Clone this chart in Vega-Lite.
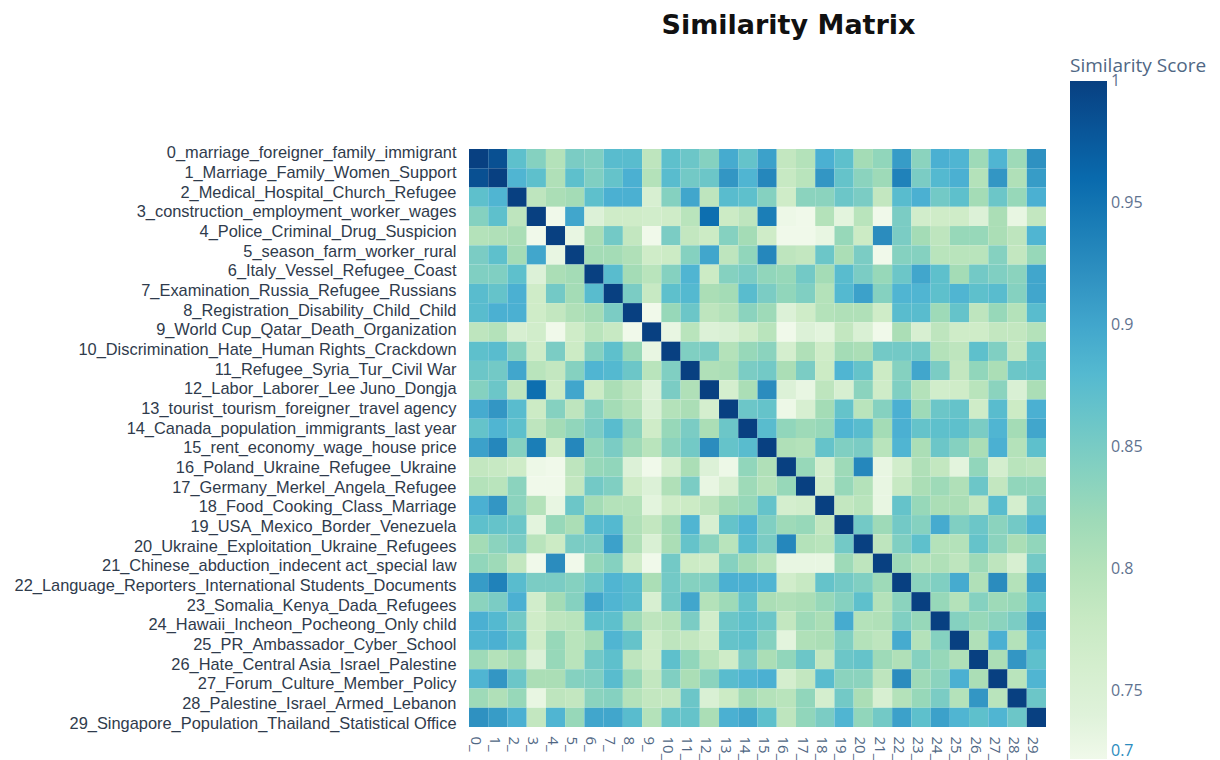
{"$schema":"https://vega.github.io/schema/vega-lite/v6.json","autosize":"none","padding":{"left":469,"top":149,"right":174,"bottom":33},"width":577,"height":578,"background":"white","title":{"text":"Similarity Matrix","font":"DejaVu Sans","fontSize":27,"fontWeight":"bold","color":"#111111","anchor":"middle","dx":31,"offset":17},"data":{"values":[
{"r":0,"c":0,"v":1},{"r":0,"c":1,"v":0.985},{"r":0,"c":2,"v":0.87},{"r":0,"c":3,"v":0.84},{"r":0,"c":4,"v":0.8},{"r":0,"c":5,"v":0.85},{"r":0,"c":6,"v":0.845},{"r":0,"c":7,"v":0.875},{"r":0,"c":8,"v":0.875},{"r":0,"c":9,"v":0.79},{"r":0,"c":10,"v":0.87},{"r":0,"c":11,"v":0.86},{"r":0,"c":12,"v":0.84},{"r":0,"c":13,"v":0.895},{"r":0,"c":14,"v":0.865},{"r":0,"c":15,"v":0.905},{"r":0,"c":16,"v":0.785},{"r":0,"c":17,"v":0.8},{"r":0,"c":18,"v":0.89},{"r":0,"c":19,"v":0.87},{"r":0,"c":20,"v":0.815},{"r":0,"c":21,"v":0.83},{"r":0,"c":22,"v":0.91},{"r":0,"c":23,"v":0.835},{"r":0,"c":24,"v":0.89},{"r":0,"c":25,"v":0.885},{"r":0,"c":26,"v":0.82},{"r":0,"c":27,"v":0.885},{"r":0,"c":28,"v":0.82},{"r":0,"c":29,"v":0.92},
{"r":1,"c":0,"v":0.985},{"r":1,"c":1,"v":1},{"r":1,"c":2,"v":0.885},{"r":1,"c":3,"v":0.87},{"r":1,"c":4,"v":0.805},{"r":1,"c":5,"v":0.87},{"r":1,"c":6,"v":0.845},{"r":1,"c":7,"v":0.865},{"r":1,"c":8,"v":0.89},{"r":1,"c":9,"v":0.8},{"r":1,"c":10,"v":0.875},{"r":1,"c":11,"v":0.855},{"r":1,"c":12,"v":0.86},{"r":1,"c":13,"v":0.915},{"r":1,"c":14,"v":0.885},{"r":1,"c":15,"v":0.93},{"r":1,"c":16,"v":0.78},{"r":1,"c":17,"v":0.795},{"r":1,"c":18,"v":0.915},{"r":1,"c":19,"v":0.865},{"r":1,"c":20,"v":0.835},{"r":1,"c":21,"v":0.82},{"r":1,"c":22,"v":0.935},{"r":1,"c":23,"v":0.85},{"r":1,"c":24,"v":0.88},{"r":1,"c":25,"v":0.89},{"r":1,"c":26,"v":0.8},{"r":1,"c":27,"v":0.915},{"r":1,"c":28,"v":0.805},{"r":1,"c":29,"v":0.91},
{"r":2,"c":0,"v":0.87},{"r":2,"c":1,"v":0.885},{"r":2,"c":2,"v":1},{"r":2,"c":3,"v":0.79},{"r":2,"c":4,"v":0.81},{"r":2,"c":5,"v":0.815},{"r":2,"c":6,"v":0.87},{"r":2,"c":7,"v":0.89},{"r":2,"c":8,"v":0.89},{"r":2,"c":9,"v":0.755},{"r":2,"c":10,"v":0.84},{"r":2,"c":11,"v":0.9},{"r":2,"c":12,"v":0.79},{"r":2,"c":13,"v":0.875},{"r":2,"c":14,"v":0.87},{"r":2,"c":15,"v":0.84},{"r":2,"c":16,"v":0.77},{"r":2,"c":17,"v":0.835},{"r":2,"c":18,"v":0.835},{"r":2,"c":19,"v":0.86},{"r":2,"c":20,"v":0.85},{"r":2,"c":21,"v":0.785},{"r":2,"c":22,"v":0.875},{"r":2,"c":23,"v":0.89},{"r":2,"c":24,"v":0.855},{"r":2,"c":25,"v":0.87},{"r":2,"c":26,"v":0.815},{"r":2,"c":27,"v":0.86},{"r":2,"c":28,"v":0.825},{"r":2,"c":29,"v":0.89},
{"r":3,"c":0,"v":0.84},{"r":3,"c":1,"v":0.87},{"r":3,"c":2,"v":0.79},{"r":3,"c":3,"v":1},{"r":3,"c":4,"v":0.71},{"r":3,"c":5,"v":0.9},{"r":3,"c":6,"v":0.745},{"r":3,"c":7,"v":0.77},{"r":3,"c":8,"v":0.77},{"r":3,"c":9,"v":0.765},{"r":3,"c":10,"v":0.77},{"r":3,"c":11,"v":0.795},{"r":3,"c":12,"v":0.955},{"r":3,"c":13,"v":0.775},{"r":3,"c":14,"v":0.79},{"r":3,"c":15,"v":0.94},{"r":3,"c":16,"v":0.725},{"r":3,"c":17,"v":0.715},{"r":3,"c":18,"v":0.8},{"r":3,"c":19,"v":0.735},{"r":3,"c":20,"v":0.795},{"r":3,"c":21,"v":0.705},{"r":3,"c":22,"v":0.85},{"r":3,"c":23,"v":0.765},{"r":3,"c":24,"v":0.77},{"r":3,"c":25,"v":0.77},{"r":3,"c":26,"v":0.745},{"r":3,"c":27,"v":0.81},{"r":3,"c":28,"v":0.73},{"r":3,"c":29,"v":0.785},
{"r":4,"c":0,"v":0.8},{"r":4,"c":1,"v":0.805},{"r":4,"c":2,"v":0.81},{"r":4,"c":3,"v":0.71},{"r":4,"c":4,"v":1},{"r":4,"c":5,"v":0.73},{"r":4,"c":6,"v":0.81},{"r":4,"c":7,"v":0.855},{"r":4,"c":8,"v":0.785},{"r":4,"c":9,"v":0.705},{"r":4,"c":10,"v":0.85},{"r":4,"c":11,"v":0.785},{"r":4,"c":12,"v":0.775},{"r":4,"c":13,"v":0.84},{"r":4,"c":14,"v":0.815},{"r":4,"c":15,"v":0.77},{"r":4,"c":16,"v":0.705},{"r":4,"c":17,"v":0.72},{"r":4,"c":18,"v":0.73},{"r":4,"c":19,"v":0.825},{"r":4,"c":20,"v":0.775},{"r":4,"c":21,"v":0.925},{"r":4,"c":22,"v":0.85},{"r":4,"c":23,"v":0.815},{"r":4,"c":24,"v":0.79},{"r":4,"c":25,"v":0.825},{"r":4,"c":26,"v":0.825},{"r":4,"c":27,"v":0.81},{"r":4,"c":28,"v":0.79},{"r":4,"c":29,"v":0.885},
{"r":5,"c":0,"v":0.85},{"r":5,"c":1,"v":0.87},{"r":5,"c":2,"v":0.815},{"r":5,"c":3,"v":0.9},{"r":5,"c":4,"v":0.73},{"r":5,"c":5,"v":1},{"r":5,"c":6,"v":0.815},{"r":5,"c":7,"v":0.815},{"r":5,"c":8,"v":0.805},{"r":5,"c":9,"v":0.77},{"r":5,"c":10,"v":0.775},{"r":5,"c":11,"v":0.84},{"r":5,"c":12,"v":0.9},{"r":5,"c":13,"v":0.79},{"r":5,"c":14,"v":0.83},{"r":5,"c":15,"v":0.93},{"r":5,"c":16,"v":0.79},{"r":5,"c":17,"v":0.785},{"r":5,"c":18,"v":0.86},{"r":5,"c":19,"v":0.81},{"r":5,"c":20,"v":0.85},{"r":5,"c":21,"v":0.715},{"r":5,"c":22,"v":0.84},{"r":5,"c":23,"v":0.84},{"r":5,"c":24,"v":0.795},{"r":5,"c":25,"v":0.795},{"r":5,"c":26,"v":0.795},{"r":5,"c":27,"v":0.84},{"r":5,"c":28,"v":0.785},{"r":5,"c":29,"v":0.825},
{"r":6,"c":0,"v":0.845},{"r":6,"c":1,"v":0.845},{"r":6,"c":2,"v":0.87},{"r":6,"c":3,"v":0.745},{"r":6,"c":4,"v":0.81},{"r":6,"c":5,"v":0.815},{"r":6,"c":6,"v":1},{"r":6,"c":7,"v":0.875},{"r":6,"c":8,"v":0.815},{"r":6,"c":9,"v":0.795},{"r":6,"c":10,"v":0.84},{"r":6,"c":11,"v":0.885},{"r":6,"c":12,"v":0.775},{"r":6,"c":13,"v":0.84},{"r":6,"c":14,"v":0.85},{"r":6,"c":15,"v":0.83},{"r":6,"c":16,"v":0.825},{"r":6,"c":17,"v":0.855},{"r":6,"c":18,"v":0.815},{"r":6,"c":19,"v":0.875},{"r":6,"c":20,"v":0.85},{"r":6,"c":21,"v":0.825},{"r":6,"c":22,"v":0.86},{"r":6,"c":23,"v":0.9},{"r":6,"c":24,"v":0.87},{"r":6,"c":25,"v":0.815},{"r":6,"c":26,"v":0.855},{"r":6,"c":27,"v":0.845},{"r":6,"c":28,"v":0.835},{"r":6,"c":29,"v":0.9},
{"r":7,"c":0,"v":0.875},{"r":7,"c":1,"v":0.865},{"r":7,"c":2,"v":0.89},{"r":7,"c":3,"v":0.77},{"r":7,"c":4,"v":0.855},{"r":7,"c":5,"v":0.815},{"r":7,"c":6,"v":0.875},{"r":7,"c":7,"v":1},{"r":7,"c":8,"v":0.85},{"r":7,"c":9,"v":0.78},{"r":7,"c":10,"v":0.87},{"r":7,"c":11,"v":0.88},{"r":7,"c":12,"v":0.81},{"r":7,"c":13,"v":0.815},{"r":7,"c":14,"v":0.875},{"r":7,"c":15,"v":0.85},{"r":7,"c":16,"v":0.83},{"r":7,"c":17,"v":0.845},{"r":7,"c":18,"v":0.8},{"r":7,"c":19,"v":0.88},{"r":7,"c":20,"v":0.905},{"r":7,"c":21,"v":0.84},{"r":7,"c":22,"v":0.885},{"r":7,"c":23,"v":0.885},{"r":7,"c":24,"v":0.87},{"r":7,"c":25,"v":0.885},{"r":7,"c":26,"v":0.87},{"r":7,"c":27,"v":0.875},{"r":7,"c":28,"v":0.84},{"r":7,"c":29,"v":0.9},
{"r":8,"c":0,"v":0.875},{"r":8,"c":1,"v":0.89},{"r":8,"c":2,"v":0.89},{"r":8,"c":3,"v":0.77},{"r":8,"c":4,"v":0.785},{"r":8,"c":5,"v":0.805},{"r":8,"c":6,"v":0.815},{"r":8,"c":7,"v":0.85},{"r":8,"c":8,"v":1},{"r":8,"c":9,"v":0.72},{"r":8,"c":10,"v":0.825},{"r":8,"c":11,"v":0.86},{"r":8,"c":12,"v":0.79},{"r":8,"c":13,"v":0.8},{"r":8,"c":14,"v":0.835},{"r":8,"c":15,"v":0.82},{"r":8,"c":16,"v":0.745},{"r":8,"c":17,"v":0.77},{"r":8,"c":18,"v":0.8},{"r":8,"c":19,"v":0.805},{"r":8,"c":20,"v":0.805},{"r":8,"c":21,"v":0.77},{"r":8,"c":22,"v":0.875},{"r":8,"c":23,"v":0.875},{"r":8,"c":24,"v":0.82},{"r":8,"c":25,"v":0.865},{"r":8,"c":26,"v":0.79},{"r":8,"c":27,"v":0.825},{"r":8,"c":28,"v":0.8},{"r":8,"c":29,"v":0.875},
{"r":9,"c":0,"v":0.79},{"r":9,"c":1,"v":0.8},{"r":9,"c":2,"v":0.755},{"r":9,"c":3,"v":0.765},{"r":9,"c":4,"v":0.705},{"r":9,"c":5,"v":0.77},{"r":9,"c":6,"v":0.795},{"r":9,"c":7,"v":0.78},{"r":9,"c":8,"v":0.72},{"r":9,"c":9,"v":1},{"r":9,"c":10,"v":0.73},{"r":9,"c":11,"v":0.795},{"r":9,"c":12,"v":0.745},{"r":9,"c":13,"v":0.75},{"r":9,"c":14,"v":0.77},{"r":9,"c":15,"v":0.795},{"r":9,"c":16,"v":0.7},{"r":9,"c":17,"v":0.745},{"r":9,"c":18,"v":0.735},{"r":9,"c":19,"v":0.785},{"r":9,"c":20,"v":0.75},{"r":9,"c":21,"v":0.71},{"r":9,"c":22,"v":0.81},{"r":9,"c":23,"v":0.755},{"r":9,"c":24,"v":0.79},{"r":9,"c":25,"v":0.77},{"r":9,"c":26,"v":0.77},{"r":9,"c":27,"v":0.785},{"r":9,"c":28,"v":0.785},{"r":9,"c":29,"v":0.8},
{"r":10,"c":0,"v":0.87},{"r":10,"c":1,"v":0.875},{"r":10,"c":2,"v":0.84},{"r":10,"c":3,"v":0.77},{"r":10,"c":4,"v":0.85},{"r":10,"c":5,"v":0.775},{"r":10,"c":6,"v":0.84},{"r":10,"c":7,"v":0.87},{"r":10,"c":8,"v":0.825},{"r":10,"c":9,"v":0.73},{"r":10,"c":10,"v":1},{"r":10,"c":11,"v":0.845},{"r":10,"c":12,"v":0.85},{"r":10,"c":13,"v":0.8},{"r":10,"c":14,"v":0.825},{"r":10,"c":15,"v":0.835},{"r":10,"c":16,"v":0.76},{"r":10,"c":17,"v":0.805},{"r":10,"c":18,"v":0.77},{"r":10,"c":19,"v":0.815},{"r":10,"c":20,"v":0.81},{"r":10,"c":21,"v":0.855},{"r":10,"c":22,"v":0.855},{"r":10,"c":23,"v":0.855},{"r":10,"c":24,"v":0.8},{"r":10,"c":25,"v":0.79},{"r":10,"c":26,"v":0.87},{"r":10,"c":27,"v":0.845},{"r":10,"c":28,"v":0.785},{"r":10,"c":29,"v":0.865},
{"r":11,"c":0,"v":0.86},{"r":11,"c":1,"v":0.855},{"r":11,"c":2,"v":0.9},{"r":11,"c":3,"v":0.795},{"r":11,"c":4,"v":0.785},{"r":11,"c":5,"v":0.84},{"r":11,"c":6,"v":0.885},{"r":11,"c":7,"v":0.88},{"r":11,"c":8,"v":0.86},{"r":11,"c":9,"v":0.795},{"r":11,"c":10,"v":0.845},{"r":11,"c":11,"v":1},{"r":11,"c":12,"v":0.805},{"r":11,"c":13,"v":0.81},{"r":11,"c":14,"v":0.85},{"r":11,"c":15,"v":0.855},{"r":11,"c":16,"v":0.81},{"r":11,"c":17,"v":0.85},{"r":11,"c":18,"v":0.775},{"r":11,"c":19,"v":0.885},{"r":11,"c":20,"v":0.865},{"r":11,"c":21,"v":0.775},{"r":11,"c":22,"v":0.84},{"r":11,"c":23,"v":0.9},{"r":11,"c":24,"v":0.85},{"r":11,"c":25,"v":0.785},{"r":11,"c":26,"v":0.83},{"r":11,"c":27,"v":0.81},{"r":11,"c":28,"v":0.86},{"r":11,"c":29,"v":0.865},
{"r":12,"c":0,"v":0.84},{"r":12,"c":1,"v":0.86},{"r":12,"c":2,"v":0.79},{"r":12,"c":3,"v":0.955},{"r":12,"c":4,"v":0.775},{"r":12,"c":5,"v":0.9},{"r":12,"c":6,"v":0.775},{"r":12,"c":7,"v":0.81},{"r":12,"c":8,"v":0.79},{"r":12,"c":9,"v":0.745},{"r":12,"c":10,"v":0.85},{"r":12,"c":11,"v":0.805},{"r":12,"c":12,"v":1},{"r":12,"c":13,"v":0.76},{"r":12,"c":14,"v":0.81},{"r":12,"c":15,"v":0.925},{"r":12,"c":16,"v":0.745},{"r":12,"c":17,"v":0.73},{"r":12,"c":18,"v":0.79},{"r":12,"c":19,"v":0.755},{"r":12,"c":20,"v":0.835},{"r":12,"c":21,"v":0.77},{"r":12,"c":22,"v":0.845},{"r":12,"c":23,"v":0.8},{"r":12,"c":24,"v":0.765},{"r":12,"c":25,"v":0.77},{"r":12,"c":26,"v":0.795},{"r":12,"c":27,"v":0.835},{"r":12,"c":28,"v":0.75},{"r":12,"c":29,"v":0.81},
{"r":13,"c":0,"v":0.895},{"r":13,"c":1,"v":0.915},{"r":13,"c":2,"v":0.875},{"r":13,"c":3,"v":0.775},{"r":13,"c":4,"v":0.84},{"r":13,"c":5,"v":0.79},{"r":13,"c":6,"v":0.84},{"r":13,"c":7,"v":0.815},{"r":13,"c":8,"v":0.8},{"r":13,"c":9,"v":0.75},{"r":13,"c":10,"v":0.8},{"r":13,"c":11,"v":0.81},{"r":13,"c":12,"v":0.76},{"r":13,"c":13,"v":1},{"r":13,"c":14,"v":0.86},{"r":13,"c":15,"v":0.865},{"r":13,"c":16,"v":0.725},{"r":13,"c":17,"v":0.755},{"r":13,"c":18,"v":0.815},{"r":13,"c":19,"v":0.865},{"r":13,"c":20,"v":0.795},{"r":13,"c":21,"v":0.84},{"r":13,"c":22,"v":0.89},{"r":13,"c":23,"v":0.82},{"r":13,"c":24,"v":0.86},{"r":13,"c":25,"v":0.865},{"r":13,"c":26,"v":0.77},{"r":13,"c":27,"v":0.875},{"r":13,"c":28,"v":0.775},{"r":13,"c":29,"v":0.89},
{"r":14,"c":0,"v":0.865},{"r":14,"c":1,"v":0.885},{"r":14,"c":2,"v":0.87},{"r":14,"c":3,"v":0.79},{"r":14,"c":4,"v":0.815},{"r":14,"c":5,"v":0.83},{"r":14,"c":6,"v":0.85},{"r":14,"c":7,"v":0.875},{"r":14,"c":8,"v":0.835},{"r":14,"c":9,"v":0.77},{"r":14,"c":10,"v":0.825},{"r":14,"c":11,"v":0.85},{"r":14,"c":12,"v":0.81},{"r":14,"c":13,"v":0.86},{"r":14,"c":14,"v":1},{"r":14,"c":15,"v":0.875},{"r":14,"c":16,"v":0.83},{"r":14,"c":17,"v":0.82},{"r":14,"c":18,"v":0.825},{"r":14,"c":19,"v":0.885},{"r":14,"c":20,"v":0.875},{"r":14,"c":21,"v":0.815},{"r":14,"c":22,"v":0.89},{"r":14,"c":23,"v":0.865},{"r":14,"c":24,"v":0.87},{"r":14,"c":25,"v":0.87},{"r":14,"c":26,"v":0.85},{"r":14,"c":27,"v":0.885},{"r":14,"c":28,"v":0.815},{"r":14,"c":29,"v":0.9},
{"r":15,"c":0,"v":0.905},{"r":15,"c":1,"v":0.93},{"r":15,"c":2,"v":0.84},{"r":15,"c":3,"v":0.94},{"r":15,"c":4,"v":0.77},{"r":15,"c":5,"v":0.93},{"r":15,"c":6,"v":0.83},{"r":15,"c":7,"v":0.85},{"r":15,"c":8,"v":0.82},{"r":15,"c":9,"v":0.795},{"r":15,"c":10,"v":0.835},{"r":15,"c":11,"v":0.855},{"r":15,"c":12,"v":0.925},{"r":15,"c":13,"v":0.865},{"r":15,"c":14,"v":0.875},{"r":15,"c":15,"v":1},{"r":15,"c":16,"v":0.805},{"r":15,"c":17,"v":0.8},{"r":15,"c":18,"v":0.865},{"r":15,"c":19,"v":0.845},{"r":15,"c":20,"v":0.85},{"r":15,"c":21,"v":0.795},{"r":15,"c":22,"v":0.885},{"r":15,"c":23,"v":0.81},{"r":15,"c":24,"v":0.86},{"r":15,"c":25,"v":0.84},{"r":15,"c":26,"v":0.81},{"r":15,"c":27,"v":0.89},{"r":15,"c":28,"v":0.8},{"r":15,"c":29,"v":0.87},
{"r":16,"c":0,"v":0.785},{"r":16,"c":1,"v":0.78},{"r":16,"c":2,"v":0.77},{"r":16,"c":3,"v":0.725},{"r":16,"c":4,"v":0.705},{"r":16,"c":5,"v":0.79},{"r":16,"c":6,"v":0.825},{"r":16,"c":7,"v":0.83},{"r":16,"c":8,"v":0.745},{"r":16,"c":9,"v":0.7},{"r":16,"c":10,"v":0.76},{"r":16,"c":11,"v":0.81},{"r":16,"c":12,"v":0.745},{"r":16,"c":13,"v":0.725},{"r":16,"c":14,"v":0.83},{"r":16,"c":15,"v":0.805},{"r":16,"c":16,"v":1},{"r":16,"c":17,"v":0.825},{"r":16,"c":18,"v":0.76},{"r":16,"c":19,"v":0.82},{"r":16,"c":20,"v":0.93},{"r":16,"c":21,"v":0.73},{"r":16,"c":22,"v":0.765},{"r":16,"c":23,"v":0.805},{"r":16,"c":24,"v":0.785},{"r":16,"c":25,"v":0.735},{"r":16,"c":26,"v":0.83},{"r":16,"c":27,"v":0.76},{"r":16,"c":28,"v":0.795},{"r":16,"c":29,"v":0.79},
{"r":17,"c":0,"v":0.8},{"r":17,"c":1,"v":0.795},{"r":17,"c":2,"v":0.835},{"r":17,"c":3,"v":0.715},{"r":17,"c":4,"v":0.72},{"r":17,"c":5,"v":0.785},{"r":17,"c":6,"v":0.855},{"r":17,"c":7,"v":0.845},{"r":17,"c":8,"v":0.77},{"r":17,"c":9,"v":0.745},{"r":17,"c":10,"v":0.805},{"r":17,"c":11,"v":0.85},{"r":17,"c":12,"v":0.73},{"r":17,"c":13,"v":0.755},{"r":17,"c":14,"v":0.82},{"r":17,"c":15,"v":0.8},{"r":17,"c":16,"v":0.825},{"r":17,"c":17,"v":1},{"r":17,"c":18,"v":0.765},{"r":17,"c":19,"v":0.825},{"r":17,"c":20,"v":0.8},{"r":17,"c":21,"v":0.73},{"r":17,"c":22,"v":0.78},{"r":17,"c":23,"v":0.81},{"r":17,"c":24,"v":0.82},{"r":17,"c":25,"v":0.805},{"r":17,"c":26,"v":0.86},{"r":17,"c":27,"v":0.785},{"r":17,"c":28,"v":0.83},{"r":17,"c":29,"v":0.83},
{"r":18,"c":0,"v":0.89},{"r":18,"c":1,"v":0.915},{"r":18,"c":2,"v":0.835},{"r":18,"c":3,"v":0.8},{"r":18,"c":4,"v":0.73},{"r":18,"c":5,"v":0.86},{"r":18,"c":6,"v":0.815},{"r":18,"c":7,"v":0.8},{"r":18,"c":8,"v":0.8},{"r":18,"c":9,"v":0.735},{"r":18,"c":10,"v":0.77},{"r":18,"c":11,"v":0.775},{"r":18,"c":12,"v":0.79},{"r":18,"c":13,"v":0.815},{"r":18,"c":14,"v":0.825},{"r":18,"c":15,"v":0.865},{"r":18,"c":16,"v":0.76},{"r":18,"c":17,"v":0.765},{"r":18,"c":18,"v":1},{"r":18,"c":19,"v":0.785},{"r":18,"c":20,"v":0.795},{"r":18,"c":21,"v":0.73},{"r":18,"c":22,"v":0.865},{"r":18,"c":23,"v":0.825},{"r":18,"c":24,"v":0.81},{"r":18,"c":25,"v":0.81},{"r":18,"c":26,"v":0.785},{"r":18,"c":27,"v":0.875},{"r":18,"c":28,"v":0.76},{"r":18,"c":29,"v":0.85},
{"r":19,"c":0,"v":0.87},{"r":19,"c":1,"v":0.865},{"r":19,"c":2,"v":0.86},{"r":19,"c":3,"v":0.735},{"r":19,"c":4,"v":0.825},{"r":19,"c":5,"v":0.81},{"r":19,"c":6,"v":0.875},{"r":19,"c":7,"v":0.88},{"r":19,"c":8,"v":0.805},{"r":19,"c":9,"v":0.785},{"r":19,"c":10,"v":0.815},{"r":19,"c":11,"v":0.885},{"r":19,"c":12,"v":0.755},{"r":19,"c":13,"v":0.865},{"r":19,"c":14,"v":0.885},{"r":19,"c":15,"v":0.845},{"r":19,"c":16,"v":0.82},{"r":19,"c":17,"v":0.825},{"r":19,"c":18,"v":0.785},{"r":19,"c":19,"v":1},{"r":19,"c":20,"v":0.855},{"r":19,"c":21,"v":0.82},{"r":19,"c":22,"v":0.855},{"r":19,"c":23,"v":0.84},{"r":19,"c":24,"v":0.895},{"r":19,"c":25,"v":0.845},{"r":19,"c":26,"v":0.86},{"r":19,"c":27,"v":0.835},{"r":19,"c":28,"v":0.855},{"r":19,"c":29,"v":0.885},
{"r":20,"c":0,"v":0.815},{"r":20,"c":1,"v":0.835},{"r":20,"c":2,"v":0.85},{"r":20,"c":3,"v":0.795},{"r":20,"c":4,"v":0.775},{"r":20,"c":5,"v":0.85},{"r":20,"c":6,"v":0.85},{"r":20,"c":7,"v":0.905},{"r":20,"c":8,"v":0.805},{"r":20,"c":9,"v":0.75},{"r":20,"c":10,"v":0.81},{"r":20,"c":11,"v":0.865},{"r":20,"c":12,"v":0.835},{"r":20,"c":13,"v":0.795},{"r":20,"c":14,"v":0.875},{"r":20,"c":15,"v":0.85},{"r":20,"c":16,"v":0.93},{"r":20,"c":17,"v":0.8},{"r":20,"c":18,"v":0.795},{"r":20,"c":19,"v":0.855},{"r":20,"c":20,"v":1},{"r":20,"c":21,"v":0.79},{"r":20,"c":22,"v":0.845},{"r":20,"c":23,"v":0.87},{"r":20,"c":24,"v":0.8},{"r":20,"c":25,"v":0.8},{"r":20,"c":26,"v":0.865},{"r":20,"c":27,"v":0.835},{"r":20,"c":28,"v":0.81},{"r":20,"c":29,"v":0.83},
{"r":21,"c":0,"v":0.83},{"r":21,"c":1,"v":0.82},{"r":21,"c":2,"v":0.785},{"r":21,"c":3,"v":0.705},{"r":21,"c":4,"v":0.925},{"r":21,"c":5,"v":0.715},{"r":21,"c":6,"v":0.825},{"r":21,"c":7,"v":0.84},{"r":21,"c":8,"v":0.77},{"r":21,"c":9,"v":0.71},{"r":21,"c":10,"v":0.855},{"r":21,"c":11,"v":0.775},{"r":21,"c":12,"v":0.77},{"r":21,"c":13,"v":0.84},{"r":21,"c":14,"v":0.815},{"r":21,"c":15,"v":0.795},{"r":21,"c":16,"v":0.73},{"r":21,"c":17,"v":0.73},{"r":21,"c":18,"v":0.73},{"r":21,"c":19,"v":0.82},{"r":21,"c":20,"v":0.79},{"r":21,"c":21,"v":1},{"r":21,"c":22,"v":0.82},{"r":21,"c":23,"v":0.8},{"r":21,"c":24,"v":0.805},{"r":21,"c":25,"v":0.79},{"r":21,"c":26,"v":0.82},{"r":21,"c":27,"v":0.79},{"r":21,"c":28,"v":0.755},{"r":21,"c":29,"v":0.855},
{"r":22,"c":0,"v":0.91},{"r":22,"c":1,"v":0.935},{"r":22,"c":2,"v":0.875},{"r":22,"c":3,"v":0.85},{"r":22,"c":4,"v":0.85},{"r":22,"c":5,"v":0.84},{"r":22,"c":6,"v":0.86},{"r":22,"c":7,"v":0.885},{"r":22,"c":8,"v":0.875},{"r":22,"c":9,"v":0.81},{"r":22,"c":10,"v":0.855},{"r":22,"c":11,"v":0.84},{"r":22,"c":12,"v":0.845},{"r":22,"c":13,"v":0.89},{"r":22,"c":14,"v":0.89},{"r":22,"c":15,"v":0.885},{"r":22,"c":16,"v":0.765},{"r":22,"c":17,"v":0.78},{"r":22,"c":18,"v":0.865},{"r":22,"c":19,"v":0.855},{"r":22,"c":20,"v":0.845},{"r":22,"c":21,"v":0.82},{"r":22,"c":22,"v":1},{"r":22,"c":23,"v":0.835},{"r":22,"c":24,"v":0.845},{"r":22,"c":25,"v":0.895},{"r":22,"c":26,"v":0.805},{"r":22,"c":27,"v":0.925},{"r":22,"c":28,"v":0.8},{"r":22,"c":29,"v":0.905},
{"r":23,"c":0,"v":0.835},{"r":23,"c":1,"v":0.85},{"r":23,"c":2,"v":0.89},{"r":23,"c":3,"v":0.765},{"r":23,"c":4,"v":0.815},{"r":23,"c":5,"v":0.84},{"r":23,"c":6,"v":0.9},{"r":23,"c":7,"v":0.885},{"r":23,"c":8,"v":0.875},{"r":23,"c":9,"v":0.755},{"r":23,"c":10,"v":0.855},{"r":23,"c":11,"v":0.9},{"r":23,"c":12,"v":0.8},{"r":23,"c":13,"v":0.82},{"r":23,"c":14,"v":0.865},{"r":23,"c":15,"v":0.81},{"r":23,"c":16,"v":0.805},{"r":23,"c":17,"v":0.81},{"r":23,"c":18,"v":0.825},{"r":23,"c":19,"v":0.84},{"r":23,"c":20,"v":0.87},{"r":23,"c":21,"v":0.8},{"r":23,"c":22,"v":0.835},{"r":23,"c":23,"v":1},{"r":23,"c":24,"v":0.825},{"r":23,"c":25,"v":0.8},{"r":23,"c":26,"v":0.84},{"r":23,"c":27,"v":0.82},{"r":23,"c":28,"v":0.825},{"r":23,"c":29,"v":0.87},
{"r":24,"c":0,"v":0.89},{"r":24,"c":1,"v":0.88},{"r":24,"c":2,"v":0.855},{"r":24,"c":3,"v":0.77},{"r":24,"c":4,"v":0.79},{"r":24,"c":5,"v":0.795},{"r":24,"c":6,"v":0.87},{"r":24,"c":7,"v":0.87},{"r":24,"c":8,"v":0.82},{"r":24,"c":9,"v":0.79},{"r":24,"c":10,"v":0.8},{"r":24,"c":11,"v":0.85},{"r":24,"c":12,"v":0.765},{"r":24,"c":13,"v":0.86},{"r":24,"c":14,"v":0.87},{"r":24,"c":15,"v":0.86},{"r":24,"c":16,"v":0.785},{"r":24,"c":17,"v":0.82},{"r":24,"c":18,"v":0.81},{"r":24,"c":19,"v":0.895},{"r":24,"c":20,"v":0.8},{"r":24,"c":21,"v":0.805},{"r":24,"c":22,"v":0.845},{"r":24,"c":23,"v":0.825},{"r":24,"c":24,"v":1},{"r":24,"c":25,"v":0.84},{"r":24,"c":26,"v":0.825},{"r":24,"c":27,"v":0.835},{"r":24,"c":28,"v":0.85},{"r":24,"c":29,"v":0.905},
{"r":25,"c":0,"v":0.885},{"r":25,"c":1,"v":0.89},{"r":25,"c":2,"v":0.87},{"r":25,"c":3,"v":0.77},{"r":25,"c":4,"v":0.825},{"r":25,"c":5,"v":0.795},{"r":25,"c":6,"v":0.815},{"r":25,"c":7,"v":0.885},{"r":25,"c":8,"v":0.865},{"r":25,"c":9,"v":0.77},{"r":25,"c":10,"v":0.79},{"r":25,"c":11,"v":0.785},{"r":25,"c":12,"v":0.77},{"r":25,"c":13,"v":0.865},{"r":25,"c":14,"v":0.87},{"r":25,"c":15,"v":0.84},{"r":25,"c":16,"v":0.735},{"r":25,"c":17,"v":0.805},{"r":25,"c":18,"v":0.81},{"r":25,"c":19,"v":0.845},{"r":25,"c":20,"v":0.8},{"r":25,"c":21,"v":0.79},{"r":25,"c":22,"v":0.895},{"r":25,"c":23,"v":0.8},{"r":25,"c":24,"v":0.84},{"r":25,"c":25,"v":1},{"r":25,"c":26,"v":0.805},{"r":25,"c":27,"v":0.89},{"r":25,"c":28,"v":0.8},{"r":25,"c":29,"v":0.885},
{"r":26,"c":0,"v":0.82},{"r":26,"c":1,"v":0.8},{"r":26,"c":2,"v":0.815},{"r":26,"c":3,"v":0.745},{"r":26,"c":4,"v":0.825},{"r":26,"c":5,"v":0.795},{"r":26,"c":6,"v":0.855},{"r":26,"c":7,"v":0.87},{"r":26,"c":8,"v":0.79},{"r":26,"c":9,"v":0.77},{"r":26,"c":10,"v":0.87},{"r":26,"c":11,"v":0.83},{"r":26,"c":12,"v":0.795},{"r":26,"c":13,"v":0.77},{"r":26,"c":14,"v":0.85},{"r":26,"c":15,"v":0.81},{"r":26,"c":16,"v":0.83},{"r":26,"c":17,"v":0.86},{"r":26,"c":18,"v":0.785},{"r":26,"c":19,"v":0.86},{"r":26,"c":20,"v":0.865},{"r":26,"c":21,"v":0.82},{"r":26,"c":22,"v":0.805},{"r":26,"c":23,"v":0.84},{"r":26,"c":24,"v":0.825},{"r":26,"c":25,"v":0.805},{"r":26,"c":26,"v":1},{"r":26,"c":27,"v":0.81},{"r":26,"c":28,"v":0.915},{"r":26,"c":29,"v":0.87},
{"r":27,"c":0,"v":0.885},{"r":27,"c":1,"v":0.915},{"r":27,"c":2,"v":0.86},{"r":27,"c":3,"v":0.81},{"r":27,"c":4,"v":0.81},{"r":27,"c":5,"v":0.84},{"r":27,"c":6,"v":0.845},{"r":27,"c":7,"v":0.875},{"r":27,"c":8,"v":0.825},{"r":27,"c":9,"v":0.785},{"r":27,"c":10,"v":0.845},{"r":27,"c":11,"v":0.81},{"r":27,"c":12,"v":0.835},{"r":27,"c":13,"v":0.875},{"r":27,"c":14,"v":0.885},{"r":27,"c":15,"v":0.89},{"r":27,"c":16,"v":0.76},{"r":27,"c":17,"v":0.785},{"r":27,"c":18,"v":0.875},{"r":27,"c":19,"v":0.835},{"r":27,"c":20,"v":0.835},{"r":27,"c":21,"v":0.79},{"r":27,"c":22,"v":0.925},{"r":27,"c":23,"v":0.82},{"r":27,"c":24,"v":0.835},{"r":27,"c":25,"v":0.89},{"r":27,"c":26,"v":0.81},{"r":27,"c":27,"v":1},{"r":27,"c":28,"v":0.795},{"r":27,"c":29,"v":0.885},
{"r":28,"c":0,"v":0.82},{"r":28,"c":1,"v":0.805},{"r":28,"c":2,"v":0.825},{"r":28,"c":3,"v":0.73},{"r":28,"c":4,"v":0.79},{"r":28,"c":5,"v":0.785},{"r":28,"c":6,"v":0.835},{"r":28,"c":7,"v":0.84},{"r":28,"c":8,"v":0.8},{"r":28,"c":9,"v":0.785},{"r":28,"c":10,"v":0.785},{"r":28,"c":11,"v":0.86},{"r":28,"c":12,"v":0.75},{"r":28,"c":13,"v":0.775},{"r":28,"c":14,"v":0.815},{"r":28,"c":15,"v":0.8},{"r":28,"c":16,"v":0.795},{"r":28,"c":17,"v":0.83},{"r":28,"c":18,"v":0.76},{"r":28,"c":19,"v":0.855},{"r":28,"c":20,"v":0.81},{"r":28,"c":21,"v":0.755},{"r":28,"c":22,"v":0.8},{"r":28,"c":23,"v":0.825},{"r":28,"c":24,"v":0.85},{"r":28,"c":25,"v":0.8},{"r":28,"c":26,"v":0.915},{"r":28,"c":27,"v":0.795},{"r":28,"c":28,"v":1},{"r":28,"c":29,"v":0.86},
{"r":29,"c":0,"v":0.92},{"r":29,"c":1,"v":0.91},{"r":29,"c":2,"v":0.89},{"r":29,"c":3,"v":0.785},{"r":29,"c":4,"v":0.885},{"r":29,"c":5,"v":0.825},{"r":29,"c":6,"v":0.9},{"r":29,"c":7,"v":0.9},{"r":29,"c":8,"v":0.875},{"r":29,"c":9,"v":0.8},{"r":29,"c":10,"v":0.865},{"r":29,"c":11,"v":0.865},{"r":29,"c":12,"v":0.81},{"r":29,"c":13,"v":0.89},{"r":29,"c":14,"v":0.9},{"r":29,"c":15,"v":0.87},{"r":29,"c":16,"v":0.79},{"r":29,"c":17,"v":0.83},{"r":29,"c":18,"v":0.85},{"r":29,"c":19,"v":0.885},{"r":29,"c":20,"v":0.83},{"r":29,"c":21,"v":0.855},{"r":29,"c":22,"v":0.905},{"r":29,"c":23,"v":0.87},{"r":29,"c":24,"v":0.905},{"r":29,"c":25,"v":0.885},{"r":29,"c":26,"v":0.87},{"r":29,"c":27,"v":0.885},{"r":29,"c":28,"v":0.86},{"r":29,"c":29,"v":1}
]},"mark":{"type":"rect"},"encoding":{"x":{"field":"c","type":"ordinal","scale":{"domain":[0,1,2,3,4,5,6,7,8,9,10,11,12,13,14,15,16,17,18,19,20,21,22,23,24,25,26,27,28,29],"paddingInner":0,"paddingOuter":0},"axis":{"title":null,"domain":false,"ticks":false,"labelAngle":90,"labelPadding":9,"labelOffset":-3,"labelFontSize":15,"labelFont":"Open Sans","labelColor":"#506784","labelExpr":"datum.value+'_'"}},"y":{"field":"r","type":"ordinal","scale":{"domain":[0,1,2,3,4,5,6,7,8,9,10,11,12,13,14,15,16,17,18,19,20,21,22,23,24,25,26,27,28,29],"paddingInner":0,"paddingOuter":0},"axis":{"title":null,"domain":false,"ticks":false,"labelPadding":13,"labelFontSize":16.4,"labelFont":"Liberation Sans","labelColor":"#2f3b4c","labelLimit":600,"labelExpr":"['0_marriage_foreigner_family_immigrant','1_Marriage_Family_Women_Support','2_Medical_Hospital_Church_Refugee','3_construction_employment_worker_wages','4_Police_Criminal_Drug_Suspicion','5_season_farm_worker_rural','6_Italy_Vessel_Refugee_Coast','7_Examination_Russia_Refugee_Russians','8_Registration_Disability_Child_Child','9_World Cup_Qatar_Death_Organization','10_Discrimination_Hate_Human Rights_Crackdown','11_Refugee_Syria_Tur_Civil War','12_Labor_Laborer_Lee Juno_Dongja','13_tourist_tourism_foreigner_travel agency','14_Canada_population_immigrants_last year','15_rent_economy_wage_house price','16_Poland_Ukraine_Refugee_Ukraine','17_Germany_Merkel_Angela_Refugee','18_Food_Cooking_Class_Marriage','19_USA_Mexico_Border_Venezuela','20_Ukraine_Exploitation_Ukraine_Refugees','21_Chinese_abduction_indecent act_special law','22_Language_Reporters_International Students_Documents','23_Somalia_Kenya_Dada_Refugees','24_Hawaii_Incheon_Pocheong_Only child','25_PR_Ambassador_Cyber_School','26_Hate_Central Asia_Israel_Palestine','27_Forum_Culture_Member_Policy','28_Palestine_Israel_Armed_Lebanon','29_Singapore_Population_Thailand_Statistical Office'][datum.value]","encoding":{"labels":{"dy":{"value":{"expr":"-5.2+0.4*datum.value"}}}}}},"color":{"field":"v","type":"quantitative","scale":{"domain":[0.722,0.7375,0.775,0.8125,0.85,0.8875,0.925,0.9625,1],"range":["#f0f9ea","#e0f3db","#ccebc5","#a8ddb5","#7bccc4","#4eb3d3","#2b8cbe","#0868ac","#084081"],"clamp":true},"legend":{"orient":"none","legendX":601,"legendY":-92,"title":"Similarity Score","titleFont":"Open Sans","titleFontSize":19,"titleFontWeight":"normal","titleColor":"#506784","titlePadding":5,"gradientLength":678,"gradientThickness":37,"gradientStrokeWidth":0,"values":[1,0.95,0.9,0.85,0.8,0.75,0.7],"format":"~g","labelOverlap":false,"labelFont":"Open Sans","labelFontSize":16,"labelColor":"#5f7390","labelOffset":4,"encode":{"labels":{"update":{"fill":{"signal":"datum.value==0.7?'#2b8cbe':'#5f7390'"},"baseline":{"signal":"datum.value==0.7?'bottom':'middle'"}}}}}}},"config":{"view":{"stroke":null}}}
